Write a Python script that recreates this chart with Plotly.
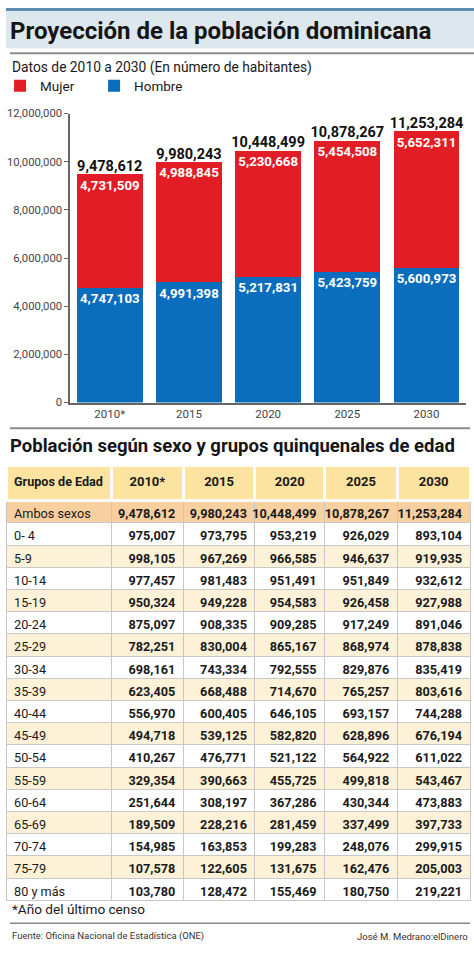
import plotly.graph_objects as go

# ---------------- data ----------------
years = ["2010*", "2015", "2020", "2025", "2030"]
mujer = [4731509, 4988845, 5230668, 5454508, 5652311]
hombre = [4747103, 4991398, 5217831, 5423759, 5600973]
total = [9478612, 9980243, 10448499, 10878267, 11253284]

y_ticks = [0, 2000000, 4000000, 6000000, 8000000, 10000000, 12000000]

groups = ["Ambos sexos", "0- 4", "5-9", "10-14", "15-19", "20-24", "25-29", "30-34",
          "35-39", "40-44", "45-49", "50-54", "55-59", "60-64", "65-69", "70-74",
          "75-79", "80 y más"]
t2010 = [9478612, 975007, 998105, 977457, 950324, 875097, 782251, 698161, 623405,
         556970, 494718, 410267, 329354, 251644, 189509, 154985, 107578, 103780]
t2015 = [9980243, 973795, 967269, 981483, 949228, 908335, 830004, 743334, 668488,
         600405, 539125, 476771, 390663, 308197, 228216, 163853, 122605, 128472]
t2020 = [10448499, 953219, 966585, 951491, 954583, 909285, 865167, 792555, 714670,
         646105, 582820, 521122, 455725, 367286, 281459, 199283, 131675, 155469]
t2025 = [10878267, 926029, 946637, 951849, 926458, 917249, 868974, 829876, 765257,
         693157, 628896, 564922, 499818, 430344, 337499, 248076, 162476, 180750]
t2030 = [11253284, 893104, 919935, 932612, 927988, 891046, 878838, 835419, 803616,
         744288, 676194, 611022, 543467, 473883, 397733, 299915, 205003, 219221]
header_labels = ["Grupos de Edad", "2010*", "2015", "2020", "2025", "2030"]

# ---------------- style ----------------
W, H = 474, 953
FONT = "Roboto, Liberation Sans, Arial, sans-serif"
RED = "#e31d25"
BLUE = "#0b6ebd"


def py(px):
    return 1 - px / H


def px_x(px):
    return px / W


fig = go.Figure()

fig.add_trace(go.Bar(
    x=years, y=hombre, name="Hombre", marker=dict(color=BLUE, line=dict(width=0)),
    texttemplate="%{y:,}", textposition="inside", insidetextanchor="end", textangle=0,
    textfont=dict(family=FONT, size=14, color="white", weight="bold"),
    cliponaxis=False,
))
fig.add_trace(go.Bar(
    x=years, y=mujer, name="Mujer", marker=dict(color=RED, line=dict(width=0)),
    texttemplate="%{y:,}", textposition="inside", insidetextanchor="end", textangle=0,
    textfont=dict(family=FONT, size=14, color="white", weight="bold"),
    cliponaxis=False,
))
fig.add_trace(go.Scatter(
    x=years, y=total, mode="text", texttemplate="%{y:,}", textposition="top center",
    textfont=dict(family=FONT, size=14.5, color="#111111", weight="bold"),
    showlegend=False, hoverinfo="skip", cliponaxis=False,
))

row_fill = []
for i in range(len(groups)):
    if i == 0:
        row_fill.append("#f8cf9f")
    elif i % 2 == 0:
        row_fill.append("#fdf1d8")
    else:
        row_fill.append("#ffffff")

fmt = lambda arr: [f"{v:,}" for v in arr]

fig.add_trace(go.Table(
    domain=dict(x=[0, px_x(470)], y=[py(910), py(466)]),
    columnwidth=[106, 72, 72, 70, 73, 73],
    header=dict(
        values=[f"<b>{h}</b>".replace(" ", "\u00a0") for h in header_labels],
        fill_color="#fde3a0",
        line=dict(color="white", width=3),
        align=["left", "center", "center", "center", "center", "center"],
        font=dict(family=FONT, size=[12.6, 13, 13, 13, 13, 13], color="#1a1a1a"),
        height=35,
    ),
    cells=dict(
        values=[groups, fmt(t2010), fmt(t2015), fmt(t2020), fmt(t2025), fmt(t2030)],
        fill_color=[row_fill] * 6,
        line=dict(color="#c8c8c8", width=1),
        align=["left", "right", "right", "right", "right", "right"],
        font=dict(family=FONT, size=12.7, color="#1a1a1a",
                  weight=["normal", "bold", "bold", "bold", "bold", "bold"]),
        height=22.2,
    ),
))

shapes = [
    dict(type="rect", xref="paper", yref="paper", x0=0, x1=1, y0=py(5), y1=py(2),
         fillcolor="#5e8fb1", line=dict(width=0), layer="below"),
    dict(type="rect", xref="paper", yref="paper", x0=0, x1=1, y0=py(43), y1=py(5),
         fillcolor="#dde7ee", line=dict(width=0), layer="below"),
    dict(type="line", xref="paper", yref="paper", x0=px_x(4), x1=1, y0=py(48), y1=py(48),
         line=dict(color="#8a8a8a", width=2)),
    dict(type="line", xref="paper", yref="paper", x0=px_x(4), x1=px_x(470), y0=py(428), y1=py(428),
         line=dict(color="#8a8a8a", width=2)),
    dict(type="line", xref="paper", yref="paper", x0=px_x(4), x1=px_x(470), y0=py(930), y1=py(930),
         line=dict(color="#8a8a8a", width=1.5)),
]

annotations = [
    dict(text="<b>Proyección de la población dominicana</b>", x=px_x(2), y=py(25),
         font=dict(family=FONT, size=24, color="#151515")),
    dict(text="Datos de 2010 a 2030 (En número de habitantes)", x=px_x(4), y=py(62),
         font=dict(family=FONT, size=13.8, color="#1a1a1a")),
    dict(text="<b>Población según sexo y grupos quinquenales de edad</b>", x=px_x(2), y=py(446),
         font=dict(family=FONT, size=18.5, color="#151515")),
    dict(text="*Año del último censo", x=px_x(4), y=py(915),
         font=dict(family=FONT, size=13.6, color="#1a1a1a")),
    dict(text="Fuente: Oficina Nacional de Estadística (ONE)", x=px_x(4), y=py(943),
         font=dict(family=FONT, size=9.5, color="#333333")),
    dict(text="José M. Medrano:elDinero", x=px_x(470), y=py(943), xanchor="right",
         font=dict(family=FONT, size=9.5, color="#333333")),
]
for a in annotations:
    a.setdefault("xanchor", "left")
    a.update(xref="paper", yref="paper", yanchor="middle", showarrow=False)

fig.update_layout(
    width=W, height=H, margin=dict(l=0, r=0, t=0, b=0),
    paper_bgcolor="white", plot_bgcolor="white",
    barmode="stack", bargap=0.17,
    shapes=shapes, annotations=annotations,
    showlegend=True,
    legend=dict(orientation="h", x=px_x(-6), xanchor="left", y=py(81), yanchor="middle",
                traceorder="reversed",
                font=dict(family=FONT, size=13.5, color="#1a1a1a"),
                entrywidth=49, entrywidthmode="pixels", itemwidth=30,
                bgcolor="rgba(0,0,0,0)", tracegroupgap=0),
    xaxis=dict(domain=[px_x(65), px_x(466)], showline=True, linecolor="#666666", linewidth=1.5,
               ticks="", tickfont=dict(family=FONT, size=11.5, color="#444444"),
               fixedrange=True),
    yaxis=dict(domain=[py(402), py(109)], range=[0, 12000000], tickvals=y_ticks,
               tickformat=",", showline=True, linecolor="#666666", linewidth=1.5,
               ticks="outside", ticklen=4, tickcolor="#666666", showgrid=False,
               zeroline=False, tickfont=dict(family=FONT, size=11.3, color="#444444"),
               fixedrange=True),
    font=dict(family=FONT),
)

fig.write_html("out.html", config={"displayModeBar": False},
               post_script="document.body.style.margin='0';")
